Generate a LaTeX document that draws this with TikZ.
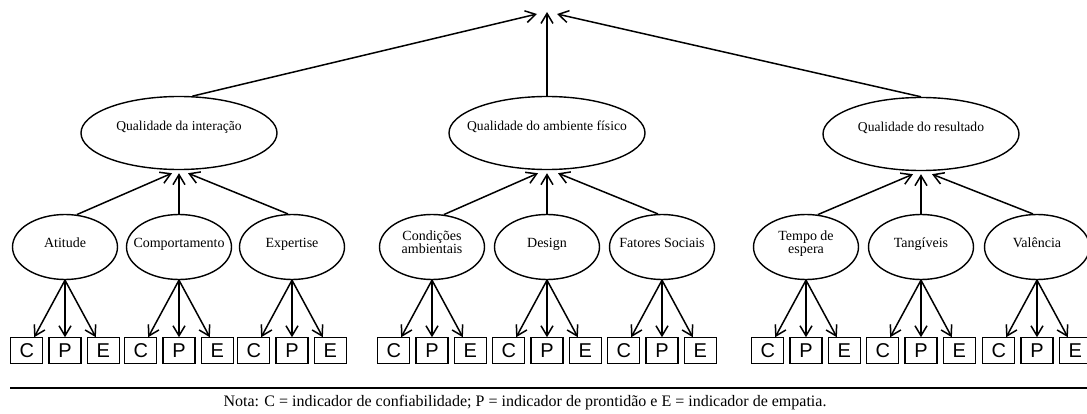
\documentclass[tikz,border=0pt]{standalone}
\usepackage{fontspec}
\setmainfont{Liberation Serif}
\setsansfont{Liberation Sans}
\usetikzlibrary{shapes.geometric,arrows.meta,positioning}
\tikzset{
  lat_top/.style={ellipse,draw,line width=1.4pt,
    minimum width=196pt,minimum height=73pt,
    inner xsep=-20pt,inner ysep=0pt,text depth=15pt,
    font=\fontsize{13.6}{16}\selectfont},
  lat_sub/.style={ellipse,draw,line width=1.4pt,
    minimum width=105pt,minimum height=65pt,
    inner xsep=-20pt,inner ysep=0pt,text depth=9pt,
    align=center,font=\fontsize{14}{13}\selectfont},
  ind_box/.style={rectangle,draw,line width=1.2pt,
    minimum width=32pt,minimum height=26pt,inner sep=0pt,
    font=\fontsize{20}{20}\sffamily},
  arr/.style={-{Straight Barb[length=10pt,width=12pt]},line width=1.5pt},
}
\begin{document}
\begin{tikzpicture}[x=1pt,y=1pt,node distance=5pt]
  \useasboundingbox (0,0) rectangle (1087,-414);
  % second-order dimensions
  \coordinate (apex) at (547,-10);
  \node (qi) [lat_top] at (179,-133) {Qualidade da interação};
  \node (qa) [lat_top] at (547,-133) {Qualidade do ambiente físico};
  \node (qr) [lat_top] at (921,-134) {Qualidade do resultado};
  % first-order dimensions
  \node (at)   [lat_sub] at (65,-247)   {Atitude};
  \node (comp) [lat_sub] at (179,-247)  {Comportamento};
  \node (exp)  [lat_sub] at (292,-247)  {Expertise};
  \node (cond) [lat_sub] at (432,-247)  {Condições\\ ambientais};
  \node (des)  [lat_sub] at (547,-247)  {Design};
  \node (fat)  [lat_sub] at (662,-247)  {Fatores Sociais};
  \node (tmp)  [lat_sub] at (806,-247)  {Tempo de\\ espera};
  \node (tang) [lat_sub] at (921,-247)  {Tangíveis};
  \node (val)  [lat_sub] at (1037,-247) {Valência};
  % indicators C, P, E
  \node (at_p) [ind_box, below=57pt of at] {P};
  \node (at_c) [ind_box, left=of at_p] {C}; \node (at_e) [ind_box, right=of at_p] {E};
  \node (comp_p) [ind_box, below=57pt of comp] {P};
  \node (comp_c) [ind_box, left=of comp_p] {C}; \node (comp_e) [ind_box, right=of comp_p] {E};
  \node (exp_p) [ind_box, below=57pt of exp] {P};
  \node (exp_c) [ind_box, left=of exp_p] {C}; \node (exp_e) [ind_box, right=of exp_p] {E};
  \node (cond_p) [ind_box, below=57pt of cond] {P};
  \node (cond_c) [ind_box, left=of cond_p] {C}; \node (cond_e) [ind_box, right=of cond_p] {E};
  \node (des_p) [ind_box, below=57pt of des] {P};
  \node (des_c) [ind_box, left=of des_p] {C}; \node (des_e) [ind_box, right=of des_p] {E};
  \node (fat_p) [ind_box, below=57pt of fat] {P};
  \node (fat_c) [ind_box, left=of fat_p] {C}; \node (fat_e) [ind_box, right=of fat_p] {E};
  \node (tmp_p) [ind_box, below=57pt of tmp] {P};
  \node (tmp_c) [ind_box, left=of tmp_p] {C}; \node (tmp_e) [ind_box, right=of tmp_p] {E};
  \node (tang_p) [ind_box, below=57pt of tang] {P};
  \node (tang_c) [ind_box, left=of tang_p] {C}; \node (tang_e) [ind_box, right=of tang_p] {E};
  \node (val_p) [ind_box, below=57pt of val] {P};
  \node (val_c) [ind_box, left=of val_p] {C}; \node (val_e) [ind_box, right=of val_p] {E};

  \draw[arr] (qi.70) -- ([xshift=-10pt,yshift=-4pt]apex);
  \draw[arr] (qa.north) -- ([yshift=-2pt]apex);
  \draw[arr] (qr.north) -- ([xshift=10pt,yshift=-4pt]apex);

  \draw[arr] (at.70) -- ([xshift=-7pt,yshift=-3pt]qi.south);
  \draw[arr] (comp.north) -- ([yshift=-3pt]qi.south);
  \draw[arr] (exp.97) -- ([xshift=9pt,yshift=-3pt]qi.south);
  \draw[arr] (cond.70) -- ([xshift=-9pt,yshift=-3pt]qa.south);
  \draw[arr] (des.north) -- ([yshift=-3pt]qa.south);
  \draw[arr] (fat.97) -- ([xshift=11pt,yshift=-3pt]qa.south);
  \draw[arr] (tmp.70) -- ([xshift=-8pt,yshift=-3pt]qr.south);
  \draw[arr] (tang.north) -- ([yshift=-3pt]qr.south);
  \draw[arr] (val.97) -- ([xshift=11pt,yshift=-3pt]qr.south);

  \draw[arr] (at.south)--(at_c); \draw[arr] (at.south)--(at_p); \draw[arr] (at.south)--(at_e);
  \draw[arr] (comp.south)--(comp_c); \draw[arr] (comp.south)--(comp_p); \draw[arr] (comp.south)--(comp_e);
  \draw[arr] (exp.south)--(exp_c); \draw[arr] (exp.south)--(exp_p); \draw[arr] (exp.south)--(exp_e);
  \draw[arr] (cond.south)--(cond_c); \draw[arr] (cond.south)--(cond_p); \draw[arr] (cond.south)--(cond_e);
  \draw[arr] (des.south)--(des_c); \draw[arr] (des.south)--(des_p); \draw[arr] (des.south)--(des_e);
  \draw[arr] (fat.south)--(fat_c); \draw[arr] (fat.south)--(fat_p); \draw[arr] (fat.south)--(fat_e);
  \draw[arr] (tmp.south)--(tmp_c); \draw[arr] (tmp.south)--(tmp_p); \draw[arr] (tmp.south)--(tmp_e);
  \draw[arr] (tang.south)--(tang_c); \draw[arr] (tang.south)--(tang_p); \draw[arr] (tang.south)--(tang_e);
  \draw[arr] (val.south)--(val_c); \draw[arr] (val.south)--(val_p); \draw[arr] (val.south)--(val_e);

  % note under the rule
  \coordinate (rule_l) at (10,-388);
  \coordinate (rule_r) at (1087,-388);
  \draw[line width=1.4pt] (rule_l) -- (rule_r);
  \node (nota) at (525,-403) [font=\fontsize{16}{18}\selectfont]
    {Nota: C = indicador de confiabilidade; P = indicador de prontidão e E = indicador de empatia.};
\end{tikzpicture}
\end{document}
